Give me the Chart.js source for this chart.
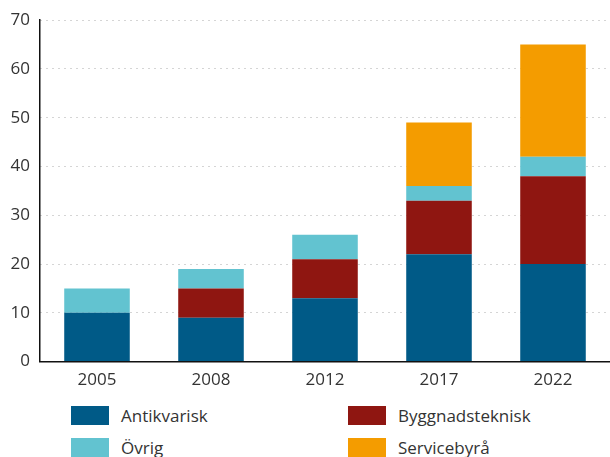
<!DOCTYPE html>
<html>
<head>
<meta charset="utf-8">
<script src="https://cdn.jsdelivr.net/npm/chart.js@4"></script>
<style>
  body { margin: 0; background: #fff; font-family: "Open Sans", sans-serif; }
  #wrap { position: relative; width: 610px; height: 457px; }
  #chart { position: absolute; left: 0; top: 0; }
  .leg { position: absolute; display: flex; align-items: center; font-size: 17px; color: #333; }
  .leg span.box { display: inline-block; width: 38px; height: 19px; margin-right: 12px; }
</style>
</head>
<body>
<div id="wrap">
  <canvas id="chart" width="610" height="398"></canvas>
  <div id="legend"></div>
</div>
<script>
const years = ['2005', '2008', '2012', '2017', '2022'];
const antikvarisk = [10, 9, 13, 22, 20];
const byggnadsteknisk = [0, 6, 8, 11, 18];
const ovrig = [5, 4, 5, 3, 4];
const servicebyra = [0, 0, 0, 13, 23];
const yTicks = [0, 10, 20, 30, 40, 50, 60, 70];

const series = [
    { label: 'Antikvarisk', data: antikvarisk, color: '#005a87' },
    { label: 'Byggnadsteknisk', data: byggnadsteknisk, color: '#8f1611' },
    { label: 'Övrig', data: ovrig, color: '#62c3d0' },
    { label: 'Servicebyrå', data: servicebyra, color: '#f49c00' }
];

Chart.defaults.font.family = '"Open Sans", sans-serif';
Chart.defaults.color = '#333';

new Chart(document.getElementById('chart').getContext('2d'), {
    type: 'bar',
    data: {
        labels: years,
        datasets: series.map(s => ({
            label: s.label,
            data: s.data,
            backgroundColor: s.color,
            barPercentage: 0.575,
            categoryPercentage: 1
        }))
    },
    options: {
        responsive: false,
        animation: false,
        layout: { padding: { top: 12, right: 0, left: 0 } },
        plugins: { legend: { display: false }, tooltip: { enabled: false } },
        scales: {
            x: {
                stacked: true,
                grid: { display: false, drawTicks: false },
                border: { display: true, color: '#111', width: 1.5 },
                ticks: { font: { size: 17 }, padding: 8 }
            },
            y: {
                stacked: true,
                min: 0,
                max: 70,
                afterFit: s => { s.width = 40; },
                afterBuildTicks: s => { s.ticks = yTicks.map(v => ({ value: v })); },
                grid: {
                    drawTicks: false,
                    color: c => c.tick.value === 0 ? 'rgba(0,0,0,0)' : '#aaa',
                    lineWidth: 1
                },
                border: { display: true, color: '#111', width: 1.5, dash: [1, 5] },
                ticks: { font: { size: 17 }, padding: 10 }
            }
        }
    }
});

// legend in two columns under the chart
const legendPos = [[71, 404], [348, 404], [71, 436], [348, 436]];
series.forEach((s, k) => {
    const d = document.createElement('div');
    d.className = 'leg';
    d.style.left = legendPos[k][0] + 'px';
    d.style.top = legendPos[k][1] + 'px';
    d.innerHTML = '<span class="box" style="background:' + s.color + '"></span>' + s.label;
    document.getElementById('legend').appendChild(d);
});
</script>
</body>
</html>
